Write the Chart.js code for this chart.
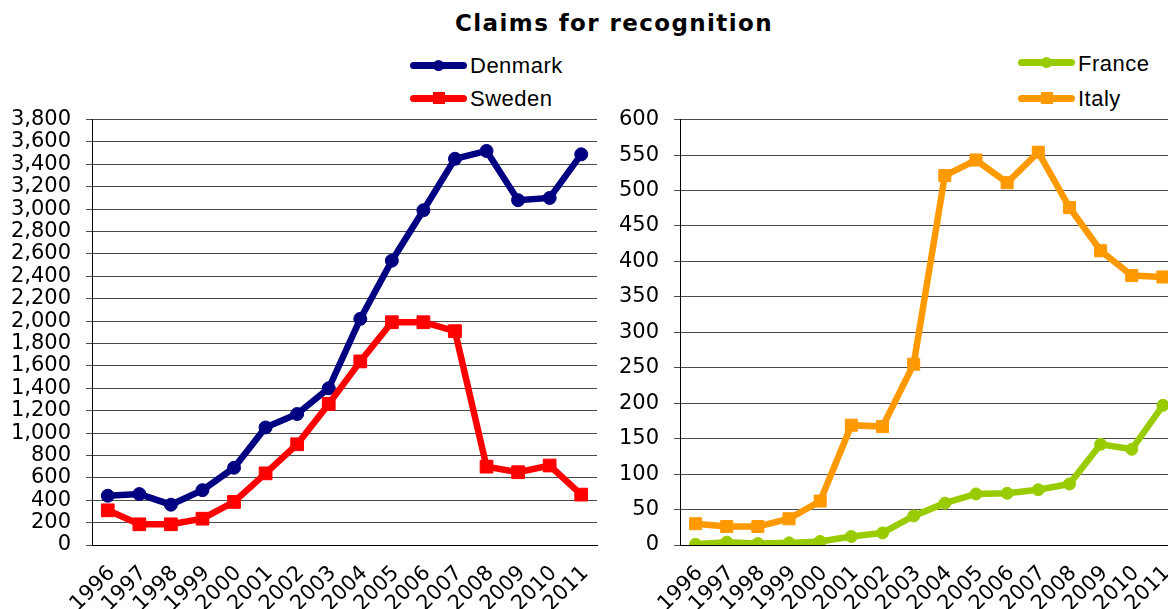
<!DOCTYPE html>
<html>
<head>
<meta charset="utf-8">
<script src="https://cdn.jsdelivr.net/npm/chart.js@4.4.1/dist/chart.umd.min.js"></script>
<style>
  html, body { margin: 0; padding: 0; width: 1168px; height: 609px; overflow: hidden; background: #fff; }
  #title { position: absolute; left: 614px; top: 12px; transform: translateX(-50%); white-space: nowrap;
           font-family: "DejaVu Sans", Verdana, sans-serif; font-weight: bold; font-size: 23px; line-height: 23px;
           letter-spacing: 1.4px; color: #000; }
  .leg { position: absolute; }
  .leg .ln { position: absolute; height: 7px; border-radius: 3.5px; }
  .leg .mk { position: absolute; }
  .leg .tx { position: absolute; white-space: nowrap; font-family: "Liberation Sans", Arial, sans-serif;
             font-size: 22px; line-height: 22px; letter-spacing: 0.5px; color: #000; }
  canvas { position: absolute; }
</style>
</head>
<body>
<div id="title">Claims for recognition</div>
<div id="legends"></div>
<canvas id="right" width="588" height="517" style="left:600px;top:92px;width:588px;height:517px;"></canvas>
<canvas id="left" width="607" height="517" style="left:0px;top:92px;width:607px;height:517px;"></canvas>
<script>
// ---- Data ----
const years = ["1996","1997","1998","1999","2000","2001","2002","2003","2004","2005","2006","2007","2008","2009","2010","2011"];
const denmark = [440, 455, 360, 490, 690, 1050, 1170, 1400, 2020, 2540, 2990, 3450, 3520, 3080, 3100, 3490];
const sweden  = [310, 185, 185, 235, 385, 640, 900, 1260, 1640, 1990, 1990, 1910, 700, 650, 710, 450];
const france  = [1, 4, 2, 3, 5, 12, 17, 41, 59, 72, 73, 78, 86, 142, 135, 197];
const italy   = [30, 26, 26, 37, 62, 169, 167, 255, 521, 543, 511, 554, 476, 415, 380, 378];
const leftTicks  = { min: 0, max: 3800, step: 200 };
const rightTicks = { min: 0, max: 600, step: 50 };

// ---- Legends (HTML text) ----
const legendItems = [
  { label: "Denmark", color: "#000080", marker: "circle", lineX: 410, lineW: 57, cy: 65,   textX: 470, textTop: 55 },
  { label: "Sweden",  color: "#FF0000", marker: "square", lineX: 410, lineW: 57, cy: 98,   textX: 470, textTop: 88 },
  { label: "France",  color: "#99CC00", marker: "circle", lineX: 1018, lineW: 57, cy: 62,  textX: 1078, textTop: 53 },
  { label: "Italy",   color: "#FF9900", marker: "square", lineX: 1018, lineW: 57, cy: 98,  textX: 1078, textTop: 88 }
];
const legRoot = document.getElementById('legends');
legendItems.forEach(it => {
  const d = document.createElement('div'); d.className = 'leg';
  const ln = document.createElement('div'); ln.className = 'ln';
  ln.style.left = it.lineX + 'px'; ln.style.top = (it.cy - 3.5) + 'px'; ln.style.width = it.lineW + 'px'; ln.style.background = it.color;
  const mk = document.createElement('div'); mk.className = 'mk';
  const s = it.marker === 'circle' ? 11 : 12;
  mk.style.width = s + 'px'; mk.style.height = s + 'px';
  mk.style.left = (it.lineX + it.lineW / 2 - s / 2) + 'px'; mk.style.top = (it.cy - s / 2) + 'px';
  mk.style.background = it.color; mk.style.borderRadius = it.marker === 'circle' ? '50%' : '0';
  const tx = document.createElement('div'); tx.className = 'tx';
  tx.style.left = it.textX + 'px'; tx.style.top = it.textTop + 'px'; tx.textContent = it.label;
  d.appendChild(ln); d.appendChild(mk); d.appendChild(tx);
  legRoot.appendChild(d);
});

// ---- Charts ----
const tickFont = { family: "'DejaVu Sans', Verdana, sans-serif", size: 21 };
const gridColor = '#4a4a4a';

function ds(label, data, color, style, radius) {
  return {
    label, data,
    borderColor: color, backgroundColor: color,
    borderWidth: 6.5, tension: 0,
    pointStyle: style, pointRadius: radius, pointHoverRadius: radius,
    pointBackgroundColor: color, pointBorderColor: color, pointBorderWidth: 1
  };
}

function makeOptions(ticksCfg, yWidth, fmt) {
  return {
    responsive: false,
    animation: false,
    devicePixelRatio: 1,
    layout: { padding: { top: 0, right: 2, left: 0, bottom: 0 } },
    plugins: { legend: { display: false }, title: { display: false }, tooltip: { enabled: false } },
    scales: {
      x: {
        offset: true,
        grid: { display: false, drawTicks: false, offset: true },
        border: { display: true, color: '#000', width: 1 },
        ticks: { font: tickFont, color: '#000', minRotation: 45, maxRotation: 45, autoSkip: false, padding: 16, labelOffset: 4 },
        afterFit: (scale) => { scale.height = 64; scale.paddingLeft = 0; scale.paddingRight = 0; }
      },
      y: {
        min: ticksCfg.min, max: ticksCfg.max,
        grid: { color: gridColor, lineWidth: 1, drawTicks: true, tickLength: 6, tickColor: gridColor },
        border: { display: true, color: '#000', width: 1 },
        ticks: { stepSize: ticksCfg.step, autoSkip: false, font: tickFont, color: '#000', padding: 15, callback: fmt },
        afterFit: (scale) => { scale.width = yWidth; }
      }
    }
  };
}

new Chart(document.getElementById('left'), {
  type: 'line',
  data: {
    labels: years,
    datasets: [
      ds('Sweden', sweden, '#FF0000', 'rect', 9),
      ds('Denmark', denmark, '#000080', 'circle', 6.5)
    ]
  },
  options: makeOptions(leftTicks, 92, (v) => Number(v).toLocaleString('en-US'))
});

new Chart(document.getElementById('right'), {
  type: 'line',
  data: {
    labels: years,
    datasets: [
      ds('Italy', italy, '#FF9900', 'rect', 8.5),
      ds('France', france, '#99CC00', 'circle', 6)
    ]
  },
  options: makeOptions(rightTicks, 80, (v) => String(v))
});
</script>
</body>
</html>
